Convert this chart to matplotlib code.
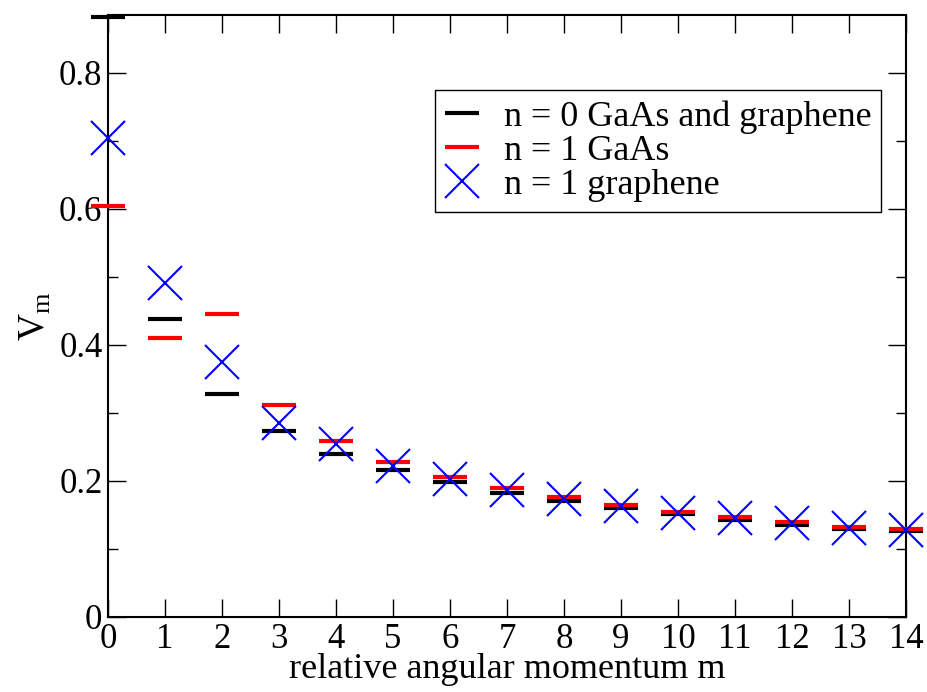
import matplotlib
matplotlib.use("Agg")
import matplotlib.pyplot as plt
from matplotlib.ticker import MultipleLocator

plt.rcParams['font.family'] = ['Liberation Serif', 'DejaVu Serif']
plt.rcParams['mathtext.fontset'] = 'custom'
plt.rcParams['mathtext.rm'] = 'Liberation Serif'

m = list(range(15))
n0_both = [0.882, 0.438, 0.328, 0.2735, 0.240, 0.216, 0.1985, 0.182, 0.1706, 0.160, 0.151, 0.143, 0.135, 0.129, 0.126]
n1_gaas = [0.604, 0.410, 0.446, 0.312, 0.259, 0.228, 0.206, 0.190, 0.176, 0.165, 0.154, 0.147, 0.140, 0.132, 0.129]
n1_graphene = [0.704, 0.491, 0.375, 0.285, 0.254, 0.222, 0.203, 0.187, 0.1735, 0.163, 0.153, 0.146, 0.138, 0.131, 0.128]

labels = ["n = 0 GaAs and graphene", "n = 1 GaAs", "n = 1 graphene"]
ytick_vals = [0, 0.2, 0.4, 0.6, 0.8]
ytick_labels = ["0", "0.2", "0.4", "0.6", "0.8"]

fig = plt.figure(figsize=(9.27, 6.92), dpi=100)
ax = fig.add_axes([0.1165, 0.1084, 0.8608, 0.8699])

ax.plot(m, n0_both, linestyle='none', marker='_', color='black', markersize=24.5, markeredgewidth=3, label=labels[0], clip_on=False, zorder=3)
ax.plot(m, n1_gaas, linestyle='none', marker='_', color='red', markersize=24.5, markeredgewidth=3, label=labels[1], clip_on=False, zorder=3)
ax.plot(m, n1_graphene, linestyle='none', marker='x', color='blue', markersize=24, markeredgewidth=1.5, label=labels[2], clip_on=False, zorder=4)

ax.set_xlim(0, 14)
ax.set_ylim(0, 0.885)
ax.xaxis.set_major_locator(MultipleLocator(1))
ax.set_yticks(ytick_vals)
ax.set_yticklabels(ytick_labels)
ax.yaxis.set_minor_locator(MultipleLocator(0.1))
ax.tick_params(which='both', direction='in', top=True, right=True, labelsize=25, width=1)
ax.tick_params(which='major', length=13, pad=4)
ax.tick_params(which='minor', length=7)
for s in ax.spines.values():
    s.set_linewidth(1.5)

ax.set_xlabel("relative angular momentum m", fontsize=26, labelpad=-2)
ax.set_ylabel(r"V$_{\mathrm{m}}$", fontsize=27, labelpad=4)

leg = ax.legend(loc='upper left', bbox_to_anchor=(0.4098, 0.8754), fontsize=26,
                frameon=True, fancybox=False, edgecolor='black', framealpha=1,
                handlelength=0.94, handletextpad=0.68, borderpad=0.28, labelspacing=0.02,
                borderaxespad=0)
leg.get_frame().set_linewidth(1.0)

fig.savefig("out.png", dpi=100)
